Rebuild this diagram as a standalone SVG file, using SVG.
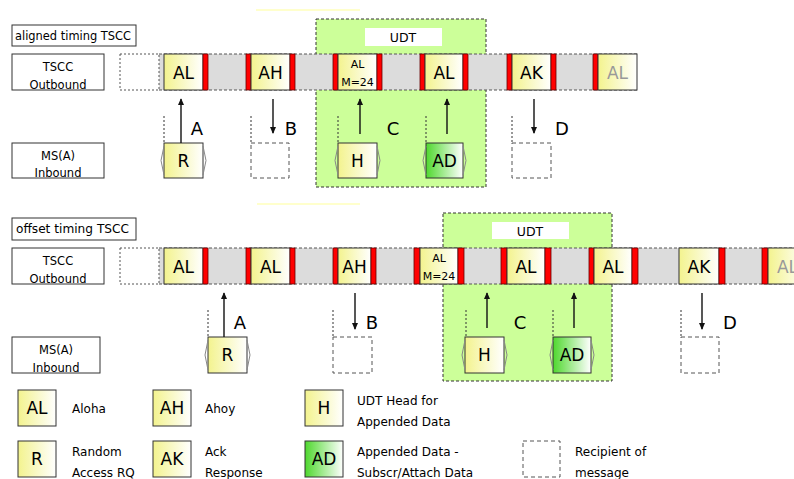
<svg xmlns="http://www.w3.org/2000/svg" width="794" height="479" viewBox="0 0 794 479">
<style>
text{font-family:"DejaVu Sans","Liberation Sans",sans-serif;fill:#000}
.lbl{fill:#fff;stroke:#333;stroke-width:1}
.lt{font-size:11.5px;text-anchor:middle}
.ttl{font-size:11.5px}
.band{fill:#dcdcdc}
.bandline{stroke:#555;stroke-width:1;stroke-dasharray:3,2;fill:none}
.cell{fill:url(#gy);stroke:#333;stroke-width:1}
.cellg{fill:url(#gg);stroke:#333;stroke-width:1}
.red{fill:#f00;stroke:#600;stroke-width:0.8}
.ct{font-size:17px;text-anchor:middle}
.sm{font-size:11px;text-anchor:middle}
.fade{fill:#999}
.empty{fill:#fff;stroke:#555;stroke-width:1;stroke-dasharray:2,2}
.dash{fill:#fff;stroke:#555;stroke-width:1;stroke-dasharray:4,3}
.udt{fill:#ccff99;stroke:#333;stroke-width:1;stroke-dasharray:3,2}
.udtl{fill:#fff}
.ut{font-size:12.5px;text-anchor:middle}
.arr{stroke:#111;stroke-width:1.4;fill:none;marker-end:url(#ah)}
.dot{stroke:#333;stroke-width:1;stroke-dasharray:2,2;fill:none}
.brk{stroke:#888;stroke-width:1;fill:none}
.al{font-size:18px;text-anchor:middle}
.leg{font-size:12px}
.faint{stroke:#ffffcc;stroke-width:2}
</style>
<defs>
<linearGradient id="gy" x1="0" y1="0" x2="1" y2="0">
<stop offset="0" stop-color="#f3f38e"/>
<stop offset="1" stop-color="#ffffff"/>
</linearGradient>
<linearGradient id="gg" x1="0" y1="0" x2="1" y2="0">
<stop offset="0" stop-color="#4fd82e"/>
<stop offset="1" stop-color="#ffffff"/>
</linearGradient>
<marker id="ah" viewBox="0 0 8 8" refX="7" refY="4" markerWidth="7" markerHeight="7" markerUnits="userSpaceOnUse" orient="auto">
<path d="M0,0.5 L8,4 L0,7.5 Z" fill="#111"/>
</marker>
</defs>
<rect width="794" height="479" fill="#fff"/>
<line class="faint" x1="256" y1="10" x2="360" y2="10"/>
<line class="faint" x1="257" y1="204" x2="360" y2="204"/>

<!-- ============ TOP: aligned timing ============ -->
<g id="udt-top">
<rect class="udt" x="316" y="19" width="170" height="168"/>
<rect class="udtl" x="365" y="28" width="77" height="18"/>
<text class="ut" x="403" y="42">UDT</text>
</g>
<g id="title-aligned">
<rect class="lbl" x="12" y="25" width="124" height="21"/>
<text class="ttl" x="15" y="40" textLength="116" lengthAdjust="spacingAndGlyphs">aligned timing TSCC</text>
</g>
<g id="tscc-out-1">
<rect class="lbl" x="12" y="54" width="92" height="36"/>
<text class="lt" x="58" y="71">TSCC</text>
<text class="lt" x="58" y="89">Outbound</text>
</g>
<g id="ms-in-1">
<rect class="lbl" x="12" y="143" width="92" height="35"/>
<text class="lt" x="58" y="160">MS(A)</text>
<text class="lt" x="58" y="177">Inbound</text>
</g>
<g id="band-1">
<rect class="band" x="159" y="54" width="478" height="36"/>
<line class="bandline" x1="159" y1="54" x2="637" y2="54"/>
<line class="bandline" x1="159" y1="90" x2="637" y2="90"/>
</g>
<g id="t1-empty"><rect class="empty" x="120" y="54" width="39" height="36"/></g>
<g id="t1-al1">
<rect class="cell" x="164" y="54" width="39" height="36"/>
<rect class="red" x="203" y="54" width="5" height="36"/>
<text class="ct" x="183.5" y="79">AL</text>
</g>
<g id="t1-ah">
<rect class="red" x="246" y="54" width="5" height="36"/>
<rect class="cell" x="251" y="54" width="39" height="36"/>
<rect class="red" x="290" y="54" width="5" height="36"/>
<text class="ct" x="270.5" y="79">AH</text>
</g>
<g id="t1-alm">
<rect class="red" x="333" y="54" width="5" height="36"/>
<rect class="cell" x="338" y="54" width="39" height="36"/>
<rect class="red" x="377" y="54" width="5" height="36"/>
<text class="sm" x="357.5" y="68">AL</text>
<text class="sm" x="357.5" y="86">M=24</text>
</g>
<g id="t1-al2">
<rect class="red" x="420" y="54" width="5" height="36"/>
<rect class="cell" x="425" y="54" width="38" height="36"/>
<rect class="red" x="463" y="54" width="5" height="36"/>
<text class="ct" x="444" y="79">AL</text>
</g>
<g id="t1-ak">
<rect class="red" x="507" y="54" width="5" height="36"/>
<rect class="cell" x="512" y="54" width="39" height="36"/>
<rect class="red" x="551" y="54" width="5" height="36"/>
<text class="ct" x="531.5" y="79">AK</text>
</g>
<g id="t1-al3">
<rect class="red" x="593" y="54" width="5" height="36"/>
<rect class="cell" x="598" y="54" width="39" height="36"/>
<text class="ct fade" x="617.5" y="79">AL</text>
</g>

<g id="t1-r">
<rect class="cell" x="164" y="143" width="39" height="35"/>
<polyline class="brk" points="164,146 161,160.5 164,175"/>
<polyline class="brk" points="203,146 206,160.5 203,175"/>
<text class="ct" x="183.5" y="167">R</text>
</g>
<g id="t1-recB"><rect class="dash" x="251" y="143" width="38" height="35"/></g>
<g id="t1-h">
<rect class="cell" x="338" y="143" width="39" height="35"/>
<polyline class="brk" points="338,146 335,160.5 338,175"/>
<polyline class="brk" points="377,146 380,160.5 377,175"/>
<text class="ct" x="357.5" y="167">H</text>
</g>
<g id="t1-ad">
<rect class="cellg" x="426" y="143" width="37" height="35"/>
<polyline class="brk" points="426,146 423,160.5 426,175"/>
<polyline class="brk" points="463,146 466,160.5 463,175"/>
<text class="ct" x="444.5" y="167">AD</text>
</g>
<g id="t1-recD"><rect class="dash" x="512" y="143" width="39" height="35"/></g>

<!-- ============ MIDDLE: offset timing ============ -->
<g id="udt-mid">
<rect class="udt" x="443" y="213" width="169" height="168"/>
<rect class="udtl" x="492" y="222" width="77" height="17"/>
<text class="ut" x="530" y="236">UDT</text>
</g>
<g id="title-offset">
<rect class="lbl" x="12" y="218" width="124" height="22"/>
<text class="ttl" x="16" y="233" textLength="113" lengthAdjust="spacingAndGlyphs">offset timing TSCC</text>
</g>
<g id="tscc-out-2">
<rect class="lbl" x="12" y="248" width="92" height="36"/>
<text class="lt" x="58" y="265">TSCC</text>
<text class="lt" x="58" y="283">Outbound</text>
</g>
<g id="ms-in-2">
<rect class="lbl" x="12" y="337" width="88" height="36"/>
<text class="lt" x="56" y="354">MS(A)</text>
<text class="lt" x="56" y="372">Inbound</text>
</g>
<g id="band-2">
<rect class="band" x="159" y="248" width="635" height="36"/>
<line class="bandline" x1="159" y1="248" x2="794" y2="248"/>
<line class="bandline" x1="159" y1="284" x2="794" y2="284"/>
</g>
<g id="t2-empty"><rect class="empty" x="120" y="248" width="39" height="36"/></g>
<g id="t2-al1">
<rect class="cell" x="164" y="248" width="39" height="36"/>
<rect class="red" x="203" y="248" width="5" height="36"/>
<text class="ct" x="183.5" y="273">AL</text>
</g>
<g id="t2-al2">
<rect class="red" x="246" y="248" width="5" height="36"/>
<rect class="cell" x="251" y="248" width="39" height="36"/>
<rect class="red" x="290" y="248" width="5" height="36"/>
<text class="ct" x="270.5" y="273">AL</text>
</g>
<g id="t2-ah">
<rect class="red" x="333" y="248" width="5" height="36"/>
<rect class="cell" x="338" y="248" width="33" height="36"/>
<rect class="red" x="371" y="248" width="5" height="36"/>
<text class="ct" x="354.5" y="273">AH</text>
</g>
<g id="t2-alm">
<rect class="red" x="414" y="248" width="6" height="36"/>
<rect class="cell" x="420" y="248" width="38" height="36"/>
<rect class="red" x="458" y="248" width="6" height="36"/>
<text class="sm" x="439" y="262">AL</text>
<text class="sm" x="439" y="280">M=24</text>
</g>
<g id="t2-al3">
<rect class="red" x="501" y="248" width="6" height="36"/>
<rect class="cell" x="507" y="248" width="38" height="36"/>
<rect class="red" x="545" y="248" width="6" height="36"/>
<text class="ct" x="526" y="273">AL</text>
</g>
<g id="t2-al4">
<rect class="red" x="589" y="248" width="5" height="36"/>
<rect class="cell" x="594" y="248" width="38" height="36"/>
<rect class="red" x="632" y="248" width="6" height="36"/>
<text class="ct" x="613" y="273">AL</text>
</g>
<g id="t2-ak">
<rect class="cell" x="679" y="248" width="40" height="36"/>
<rect class="red" x="719" y="248" width="6" height="36"/>
<text class="ct" x="699" y="273">AK</text>
</g>
<g id="t2-al5">
<rect class="red" x="762" y="248" width="6" height="36"/>
<rect class="cell" x="768" y="248" width="39" height="36"/>
<text class="ct fade" x="787.5" y="273">AL</text>
</g>

<g id="t2-r">
<rect class="cell" x="208" y="337" width="39" height="36"/>
<polyline class="brk" points="208,340 205,355 208,370"/>
<polyline class="brk" points="247,340 250,355 247,370"/>
<text class="ct" x="227.5" y="361">R</text>
</g>
<g id="t2-recB"><rect class="dash" x="333" y="337" width="39" height="36"/></g>
<g id="t2-h">
<rect class="cell" x="465" y="337" width="39" height="36"/>
<polyline class="brk" points="465,340 462,355 465,370"/>
<polyline class="brk" points="504,340 507,355 504,370"/>
<text class="ct" x="484.5" y="361">H</text>
</g>
<g id="t2-ad">
<rect class="cellg" x="553" y="337" width="38" height="36"/>
<polyline class="brk" points="553,340 550,355 553,370"/>
<polyline class="brk" points="591,340 594,355 591,370"/>
<text class="ct" x="572" y="361">AD</text>
</g>
<g id="t2-recD"><rect class="dash" x="681" y="337" width="38" height="36"/></g>

<!-- ============ connectors ============ -->
<g id="connectors">
<line class="dot" x1="164" y1="116" x2="164" y2="143"/>
<line class="dot" x1="251" y1="116" x2="251" y2="143"/>
<line class="dot" x1="338" y1="116" x2="338" y2="143"/>
<line class="dot" x1="426" y1="116" x2="426" y2="143"/>
<line class="dot" x1="512" y1="116" x2="512" y2="143"/>
<line class="arr" x1="181" y1="143" x2="181" y2="99"/>
<line class="arr" x1="273" y1="99" x2="273" y2="133"/>
<line class="arr" x1="360" y1="134" x2="360" y2="99"/>
<line class="arr" x1="447" y1="134" x2="447" y2="99"/>
<line class="arr" x1="534" y1="99" x2="534" y2="133"/>

<line class="dot" x1="208" y1="310" x2="208" y2="337"/>
<line class="dot" x1="333" y1="310" x2="333" y2="337"/>
<line class="dot" x1="466" y1="310" x2="466" y2="337"/>
<line class="dot" x1="553" y1="310" x2="553" y2="337"/>
<line class="dot" x1="681" y1="310" x2="681" y2="337"/>
<line class="arr" x1="224" y1="337" x2="224" y2="293"/>
<line class="arr" x1="355" y1="293" x2="355" y2="329"/>
<line class="arr" x1="487" y1="328" x2="487" y2="293"/>
<line class="arr" x1="574" y1="328" x2="574" y2="293"/>
<line class="arr" x1="702" y1="293" x2="702" y2="329"/>

<text class="al" x="197" y="135">A</text>
<text class="al" x="291" y="135">B</text>
<text class="al" x="393" y="135">C</text>
<text class="al" x="562" y="135">D</text>
<text class="al" x="240" y="329">A</text>
<text class="al" x="372" y="329">B</text>
<text class="al" x="520" y="329">C</text>
<text class="al" x="730" y="329">D</text>
</g>

<!-- ============ legend ============ -->
<g id="leg-al">
<rect class="cell" x="18" y="390" width="38" height="36"/>
<text class="ct" x="37" y="414">AL</text>
<text class="leg" x="72" y="413">Aloha</text>
</g>
<g id="leg-ah">
<rect class="cell" x="153" y="390" width="38" height="36"/>
<text class="ct" x="172" y="414">AH</text>
<text class="leg" x="205" y="413">Ahoy</text>
</g>
<g id="leg-h">
<rect class="cell" x="305" y="390" width="38" height="36"/>
<text class="ct" x="324" y="414">H</text>
<text class="leg" x="357" y="405">UDT Head for</text>
<text class="leg" x="357" y="426">Appended Data</text>
</g>
<g id="leg-r">
<rect class="cell" x="18" y="441" width="38" height="36"/>
<text class="ct" x="37" y="465">R</text>
<text class="leg" x="72" y="456">Random</text>
<text class="leg" x="72" y="477">Access RQ</text>
</g>
<g id="leg-ak">
<rect class="cell" x="153" y="441" width="38" height="36"/>
<text class="ct" x="172" y="465">AK</text>
<text class="leg" x="205" y="456">Ack</text>
<text class="leg" x="205" y="477">Response</text>
</g>
<g id="leg-ad">
<rect class="cellg" x="305" y="441" width="38" height="36"/>
<text class="ct" x="324" y="465">AD</text>
<text class="leg" x="357" y="456">Appended Data -</text>
<text class="leg" x="357" y="477">Subscr/Attach Data</text>
</g>
<g id="leg-rec">
<rect class="dash" x="523" y="441" width="37" height="36"/>
<text class="leg" x="575" y="456">Recipient of</text>
<text class="leg" x="575" y="477">message</text>
</g>
</svg>
